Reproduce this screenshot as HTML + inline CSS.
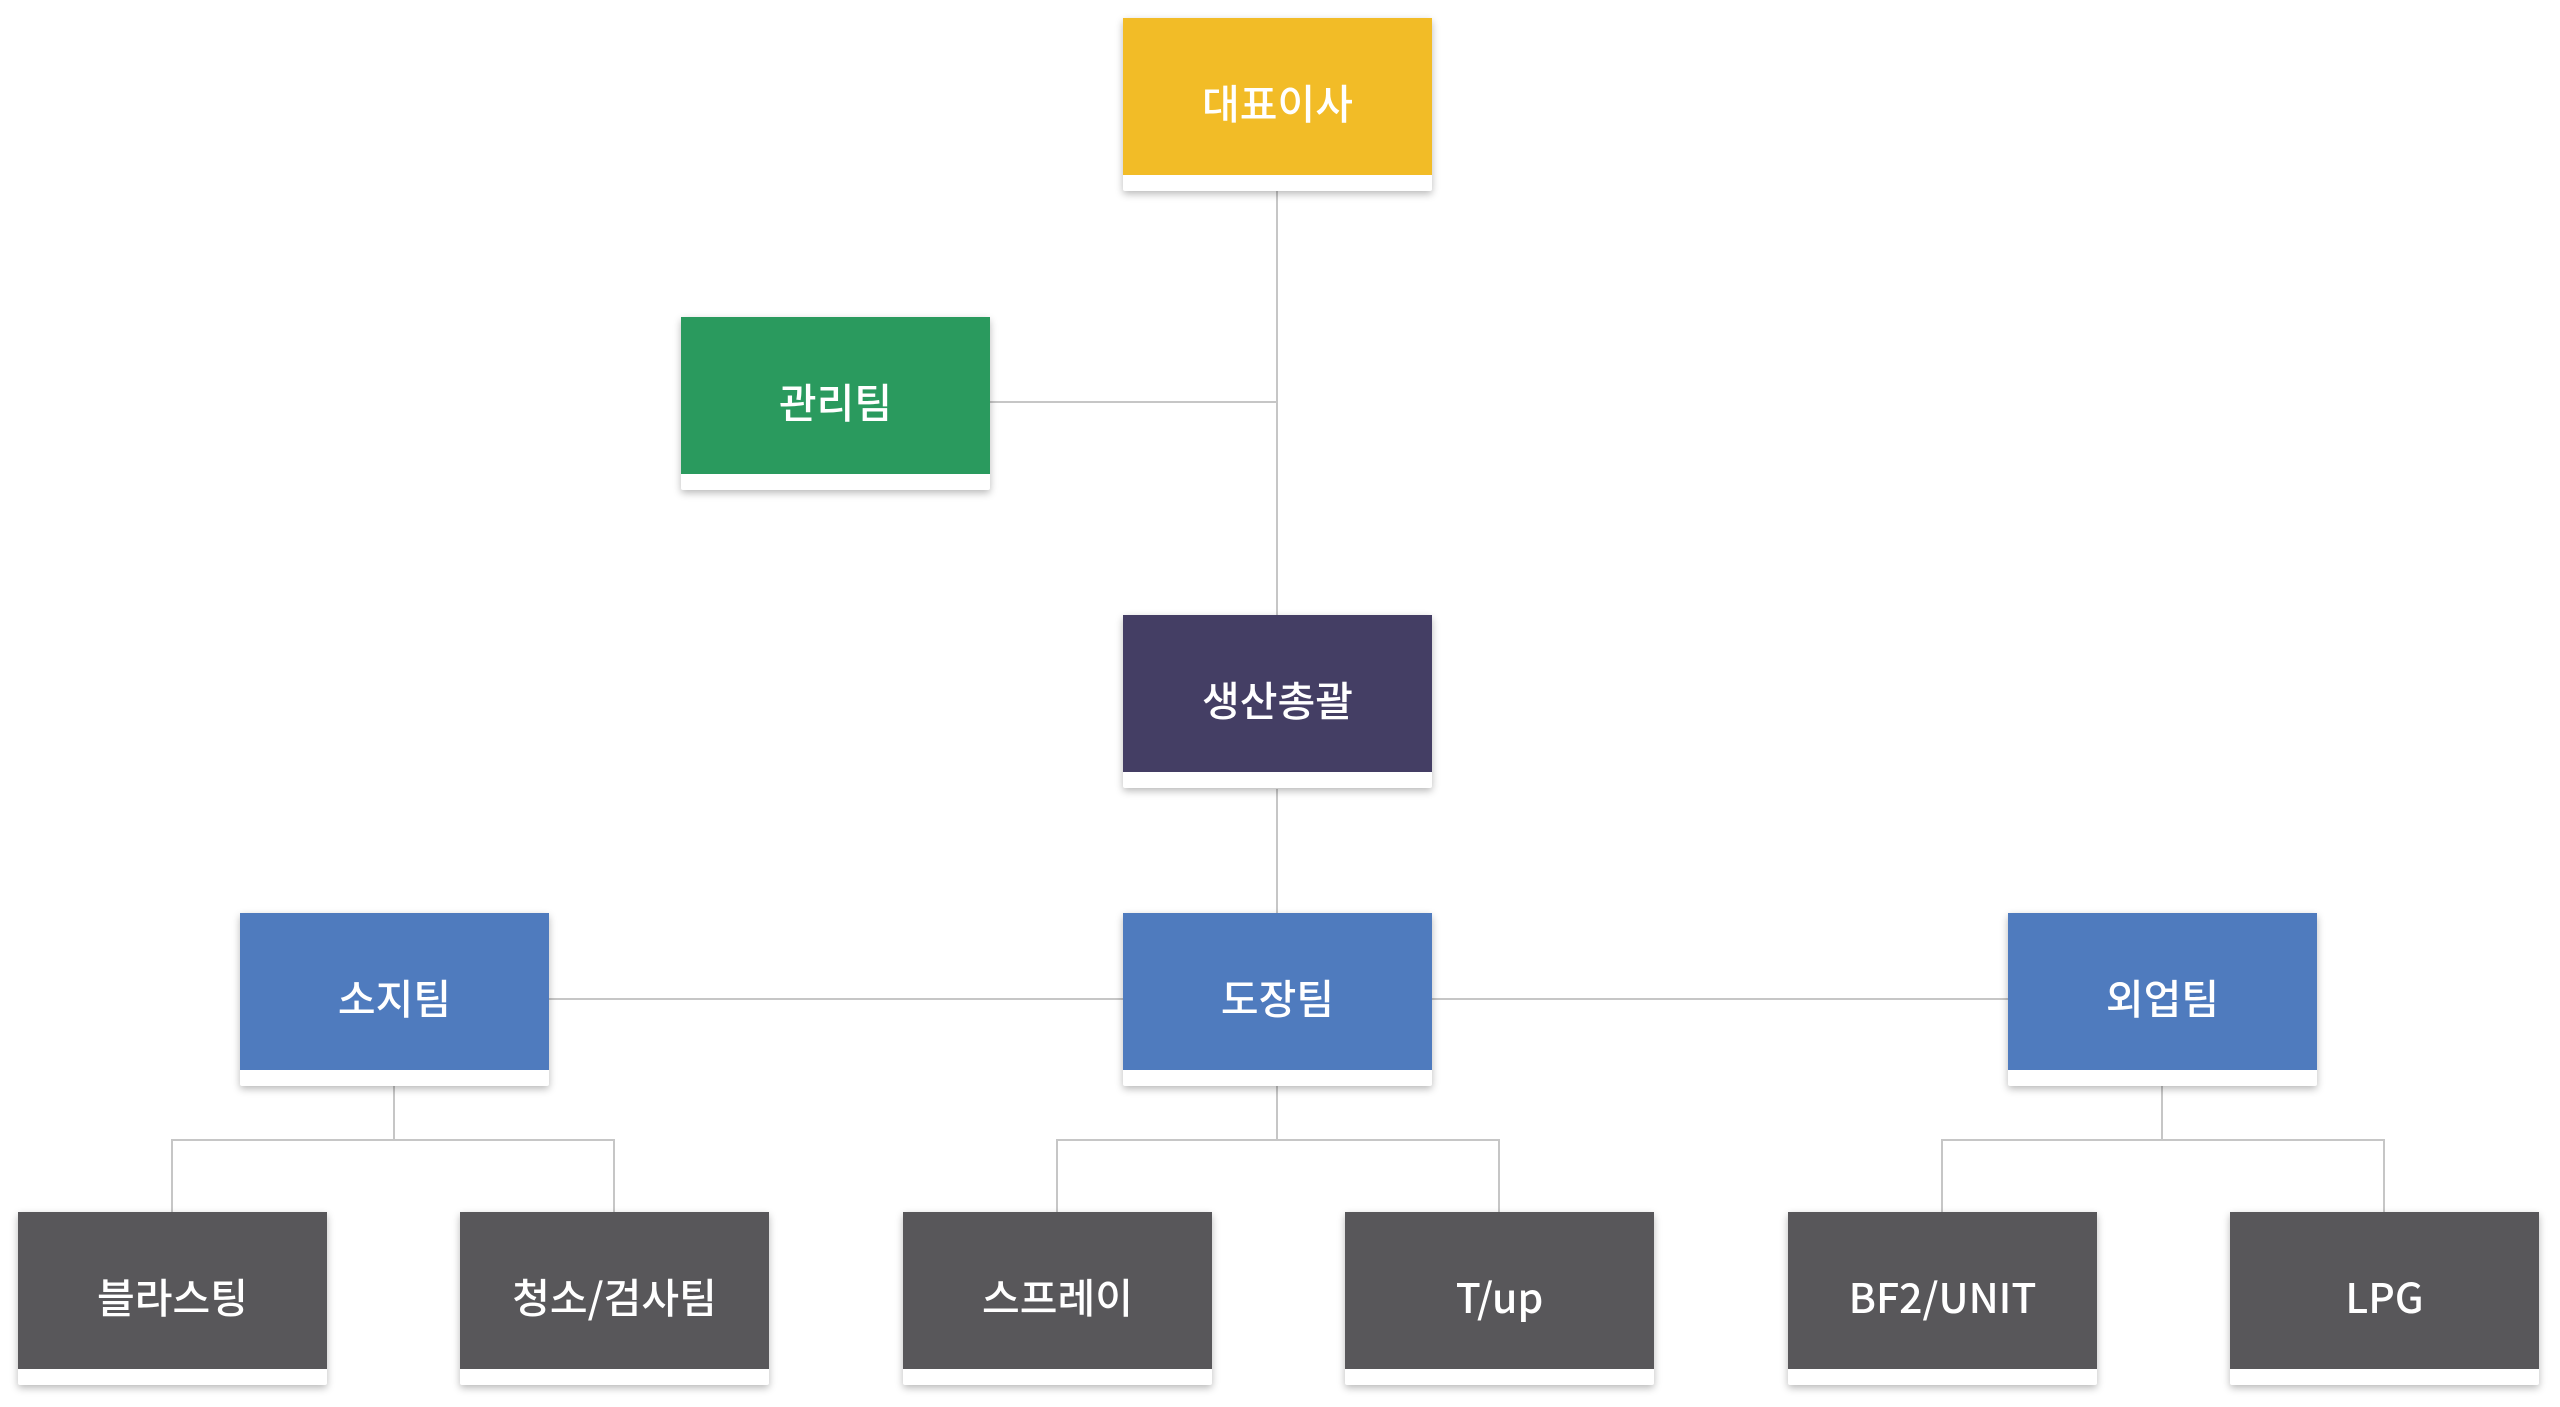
<!DOCTYPE html>
<html><head><meta charset="utf-8"><style>
html,body{margin:0;padding:0;background:#fff;}
body{width:2560px;height:1407px;position:relative;overflow:hidden;font-family:"Noto Sans CJK KR","Liberation Sans",sans-serif;}
.b{position:absolute;width:309px;height:173px;background:#fff;box-shadow:0 3px 8px rgba(0,0,0,0.28);border-radius:2px;}
.b .c{position:absolute;left:0;top:0;right:0;height:149px;padding-top:8px;color:#fff;font-size:41px;font-weight:500;display:flex;align-items:center;justify-content:center;}
.l{position:absolute;background:#c6c6c6;}
</style></head><body>
<div class="l" style="left:1276px;top:191px;width:2px;height:425px"></div>
<div class="l" style="left:988px;top:401px;width:290px;height:2px"></div>
<div class="l" style="left:1276px;top:789px;width:2px;height:125px"></div>
<div class="l" style="left:547px;top:998px;width:1461px;height:2px"></div>
<div class="l" style="left:393px;top:1086px;width:2px;height:54px"></div>
<div class="l" style="left:171px;top:1139px;width:444px;height:2px"></div>
<div class="l" style="left:171px;top:1139px;width:2px;height:74px"></div>
<div class="l" style="left:613px;top:1139px;width:2px;height:74px"></div>
<div class="l" style="left:1276px;top:1086px;width:2px;height:54px"></div>
<div class="l" style="left:1056px;top:1139px;width:444px;height:2px"></div>
<div class="l" style="left:1056px;top:1139px;width:2px;height:74px"></div>
<div class="l" style="left:1498px;top:1139px;width:2px;height:74px"></div>
<div class="l" style="left:2161px;top:1086px;width:2px;height:54px"></div>
<div class="l" style="left:1941px;top:1139px;width:444px;height:2px"></div>
<div class="l" style="left:1941px;top:1139px;width:2px;height:74px"></div>
<div class="l" style="left:2383px;top:1139px;width:2px;height:74px"></div>
<div class="b" style="left:1123px;top:18px"><div class="c" style="background:#F2BC27">대표이사</div></div>
<div class="b" style="left:681px;top:317px"><div class="c" style="background:#2A9A5E">관리팀</div></div>
<div class="b" style="left:1123px;top:615px"><div class="c" style="background:#443E64">생산총괄</div></div>
<div class="b" style="left:240px;top:913px"><div class="c" style="background:#4F7BBE">소지팀</div></div>
<div class="b" style="left:1123px;top:913px"><div class="c" style="background:#4F7BBE">도장팀</div></div>
<div class="b" style="left:2008px;top:913px"><div class="c" style="background:#4F7BBE">외업팀</div></div>
<div class="b" style="left:18px;top:1212px"><div class="c" style="background:#58575A">블라스팅</div></div>
<div class="b" style="left:460px;top:1212px"><div class="c" style="background:#58575A">청소/검사팀</div></div>
<div class="b" style="left:903px;top:1212px"><div class="c" style="background:#58575A">스프레이</div></div>
<div class="b" style="left:1345px;top:1212px"><div class="c" style="background:#58575A">T/up</div></div>
<div class="b" style="left:1788px;top:1212px"><div class="c" style="background:#58575A">BF2/UNIT</div></div>
<div class="b" style="left:2230px;top:1212px"><div class="c" style="background:#58575A">LPG</div></div>
</body></html>
